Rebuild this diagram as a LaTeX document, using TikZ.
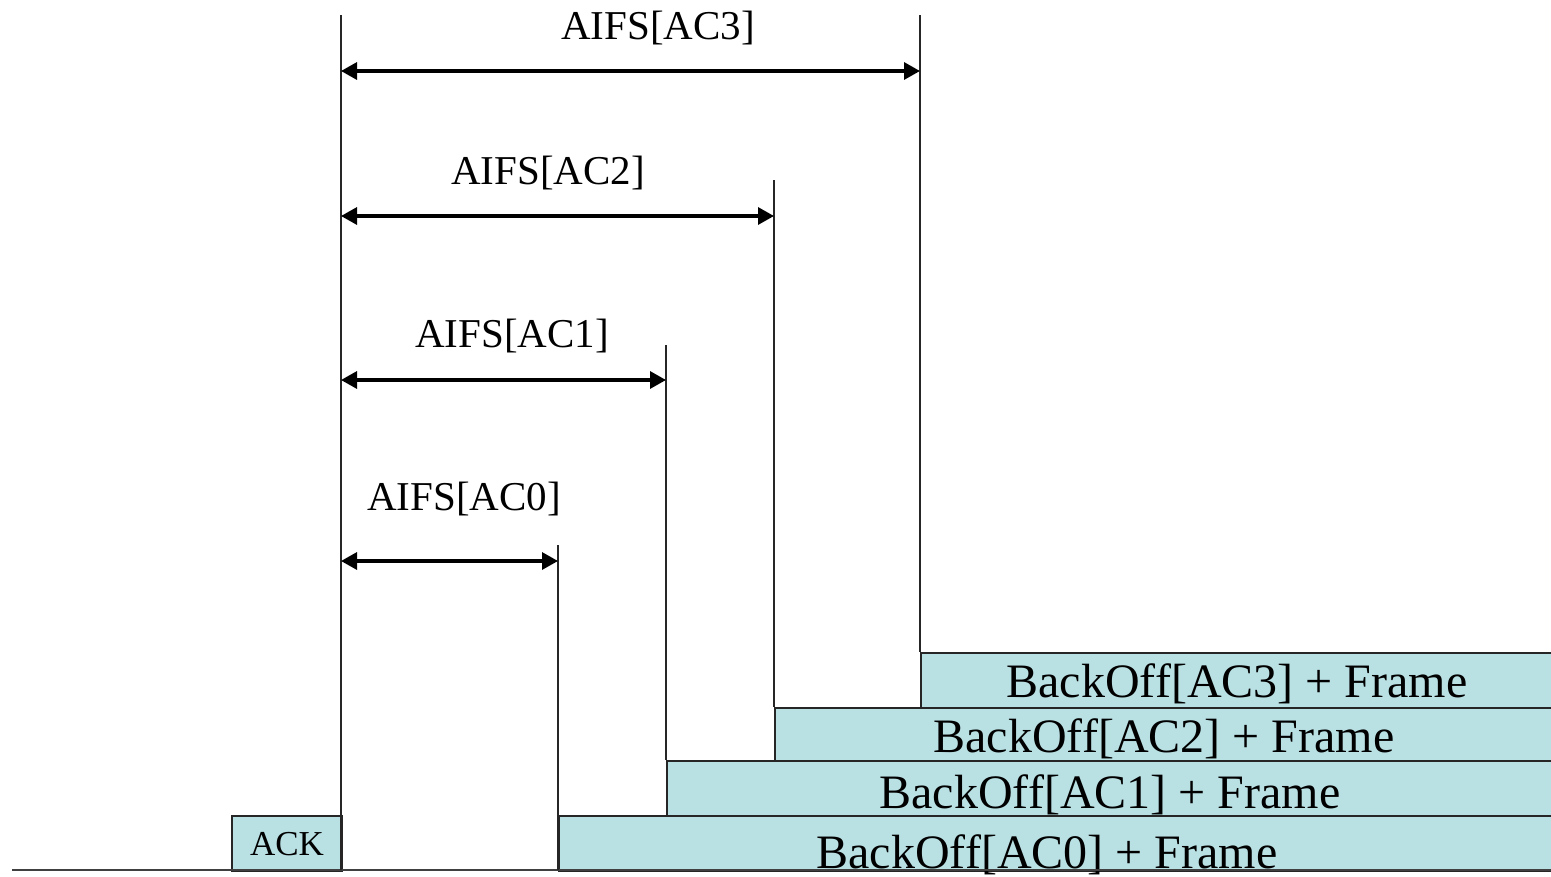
\documentclass[tikz,border=0pt]{standalone}
\usepackage{fontspec}
\setmainfont{Liberation Serif}
\usetikzlibrary{arrows.meta}
\definecolor{slotfill}{RGB}{185,224,227}
\tikzset{
  vline/.style={line width=2.2pt,black!85},
  slot/.style={draw=black!85,line width=2.4pt,fill=slotfill,inner sep=0pt,anchor=north west},
  span/.style={line width=3.2pt,{Triangle[length=16pt,width=17pt]}-{Triangle[length=16pt,width=17pt]}},
  aifslabel/.style={font=\fontsize{41}{48}\selectfont,anchor=base,inner sep=0pt},
  bolabel/.style={font=\fontsize{48}{56}\selectfont,anchor=base,inner sep=0pt},
  acklabel/.style={font=\fontsize{35}{42}\selectfont,anchor=base,inner sep=0pt}
}
\begin{document}
\begin{tikzpicture}[x=1pt,y=-1pt]
\useasboundingbox (0,0) rectangle (1551,876);
% boxes
\node[slot,minimum width=110pt,minimum height=55pt] (ack) at (231,815) {};
\node[slot,minimum width=1000pt,minimum height=55pt] (b0) at (558,815) {};
\node[slot,minimum width=900pt,minimum height=55pt] (b1) at (666,760) {};
\node[slot,minimum width=800pt,minimum height=53pt] (b2) at (774,707) {};
\node[slot,minimum width=650pt,minimum height=55pt] (b3) at (920,652) {};
% box labels
\node[acklabel] (ackt) at (287,855) {ACK};
\node[bolabel] (t0) at (1047,868) {BackOff[AC0] + Frame};
\node[bolabel] (t1) at (1110,808) {BackOff[AC1] + Frame};
\node[bolabel] (t2) at (1164,752) {BackOff[AC2] + Frame};
\node[bolabel] (t3) at (1237,697) {BackOff[AC3] + Frame};
% baseline
\coordinate (bl) at (12,870);
\coordinate (br) at (1551,870);
\draw[line width=2.6pt,black!75] (bl) -- (br);
% vertical lines
\coordinate (s0) at (341,15);  \coordinate (s1) at (341,870);
\coordinate (v0t) at (558,545); \coordinate (v0b) at (558,870);
\coordinate (v1t) at (666,345); \coordinate (v1b) at (666,760);
\coordinate (v2t) at (774,180); \coordinate (v2b) at (774,707);
\coordinate (v3t) at (920,15);  \coordinate (v3b) at (920,652);
\draw[vline] (s0) -- (s1);
\draw[vline] (v0t) -- (v0b);
\draw[vline] (v1t) -- (v1b);
\draw[vline] (v2t) -- (v2b);
\draw[vline] (v3t) -- (v3b);
% arrows
\coordinate (a3l) at (341,71);  \coordinate (a3r) at (920,71);
\coordinate (a2l) at (341,216); \coordinate (a2r) at (774,216);
\coordinate (a1l) at (341,380); \coordinate (a1r) at (666,380);
\coordinate (a0l) at (341,561); \coordinate (a0r) at (558,561);
\draw[span] (a3l) -- (a3r);
\draw[span] (a2l) -- (a2r);
\draw[span] (a1l) -- (a1r);
\draw[span] (a0l) -- (a0r);
% labels
\node[aifslabel] (l3) at (658,39) {AIFS[AC3]};
\node[aifslabel] (l2) at (548,184) {AIFS[AC2]};
\node[aifslabel] (l1) at (512,347) {AIFS[AC1]};
\node[aifslabel] (l0) at (464,510) {AIFS[AC0]};
\end{tikzpicture}
\end{document}
